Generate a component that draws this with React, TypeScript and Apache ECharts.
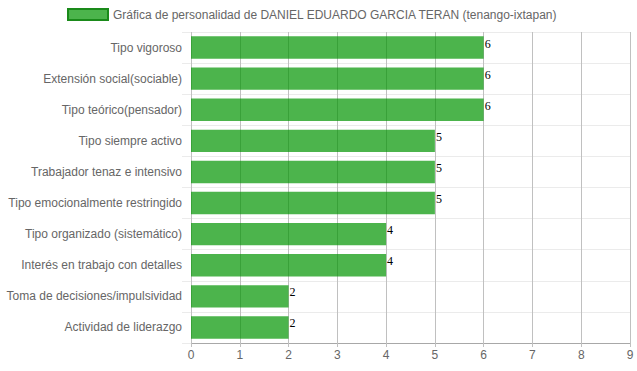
import React, { useEffect, useRef } from "react";
import * as echarts from "echarts";

const categories = [
  "Tipo vigoroso",
  "Extensión social(sociable)",
  "Tipo teórico(pensador)",
  "Tipo siempre activo",
  "Trabajador tenaz e intensivo",
  "Tipo emocionalmente restringido",
  "Tipo organizado (sistemático)",
  "Interés en trabajo con detalles",
  "Toma de decisiones/impulsividad",
  "Actividad de liderazgo",
];
const values = [6, 6, 6, 5, 5, 5, 4, 4, 2, 2];
const seriesName =
  "Gráfica de personalidad de DANIEL EDUARDO GARCIA TERAN (tenango-ixtapan)";

export default function App() {
  const ref = useRef<HTMLDivElement>(null);
  useEffect(() => {
    if (!ref.current) return;
    const chart = echarts.init(ref.current, undefined, { renderer: "svg" });
    const sans = "'Liberation Sans', Arial, sans-serif";
    chart.setOption({
      animation: false,
      backgroundColor: "#fff",
      legend: {
        left: 62,
        top: 3,
        itemWidth: 40,
        itemHeight: 11,
        itemGap: 7,
        icon: "rect",
        textStyle: { color: "#666", fontSize: 12, fontFamily: sans },
        itemStyle: { borderColor: "#1a8a1a", borderWidth: 2 },
        data: [seriesName],
      },
      grid: { left: 191, right: 7, top: 32, bottom: 28, containLabel: false },
      xAxis: {
        type: "value",
        min: 0,
        max: 9,
        interval: 1,
        axisLine: { show: true, lineStyle: { color: "#a8a8a8", width: 1 } },
        axisTick: { show: true, length: 4, lineStyle: { color: "#c0c0c0" } },
        axisLabel: { color: "#666", fontSize: 12, fontFamily: sans, margin: 6 },
        splitLine: { show: true, lineStyle: { color: "#c0c0c0", width: 1 } },
      },
      yAxis: {
        type: "category",
        inverse: true,
        data: categories,
        axisLine: { show: false },
        axisTick: {
          show: true,
          length: 9,
          interval: 0,
          lineStyle: { color: "#ebebeb" },
        },
        axisLabel: {
          color: "#666",
          fontSize: 12,
          fontFamily: sans,
          margin: 9,
          interval: 0,
        },
        splitLine: {
          show: true,
          interval: 0,
          lineStyle: { color: "#ebebeb", width: 1 },
        },
      },
      series: [
        {
          name: seriesName,
          type: "bar",
          data: values,
          barCategoryGap: "28%",
          itemStyle: { color: "rgba(0,148,0,0.7)" },
          label: {
            show: true,
            position: "right",
            distance: 1,
            offset: [0, -4],
            color: "#000",
            fontSize: 12,
            fontFamily: "'Liberation Serif', 'Times New Roman', serif",
          },
        },
      ],
    });
    return () => chart.dispose();
  }, []);
  return (
    <div
      ref={ref}
      style={{ position: "fixed", left: 0, top: 0, width: 637, height: 371 }}
    />
  );
}
